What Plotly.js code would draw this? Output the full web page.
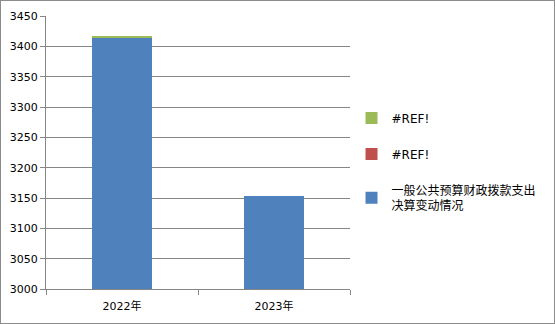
<!DOCTYPE html>
<html><head><meta charset="utf-8">
<script src="https://cdn.plot.ly/plotly-3.0.1.min.js"></script>
<style>html,body{margin:0;padding:0;background:#fff;}#c{width:555px;height:324px;box-sizing:border-box;border:1px solid #8c8c8c;}</style>
</head><body><div id="c"></div>
<script>
const categories = ['2022年', '2023年'];
const seriesNames = ['一般公共预算财政拨款支出<br>决算变动情况', '#REF!', '#REF!'];
const blueValues = [3413.5, 3153];
const redValues = [0, 0];
const greenValues = [3.3, 0];
const yTicks = [3000, 3050, 3100, 3150, 3200, 3250, 3300, 3350, 3400, 3450];

const colors = ['#4F81BD', '#C0504D', '#9BBB59'];
const ranks = [3, 2, 1];
const vals = [blueValues, redValues, greenValues];
const traces = vals.map((v, i) => ({
  type: 'bar', x: categories, y: v, name: seriesNames[i],
  marker: {color: colors[i]}, legendgroup: 'g' + i, legendrank: ranks[i], width: 0.4
}));
const layout = {
  width: 553, height: 322,
  margin: {l: 45, r: 204, t: 15, b: 34},
  barmode: 'stack',
  paper_bgcolor: '#fff', plot_bgcolor: '#fff',
  font: {family: '"DejaVu Sans", "Noto Sans CJK SC", sans-serif', size: 11, color: '#000'},
  xaxis: {type: 'category', showline: true, linecolor: '#868686', ticks: 'outside', tickson: 'boundaries',
          ticklen: 5, tickcolor: '#868686', showgrid: false, tickfont: {size: 11}, ticklabelstandoff: 7},
  yaxis: {range: [3000, 3450], tickvals: yTicks, showline: true, linecolor: '#868686', ticks: 'outside',
          ticklen: 5, tickcolor: '#868686', gridcolor: '#868686', zeroline: false, tickfont: {size: 11}},
  legend: {x: 1.005, y: 0.465, yanchor: 'middle', xanchor: 'left', traceorder: 'grouped',
           tracegroupgap: 17, font: {size: 12}, itemwidth: 30},
  showlegend: true
};
Plotly.newPlot('c', traces, layout, {displayModeBar: false, staticPlot: true});
</script></body></html>
